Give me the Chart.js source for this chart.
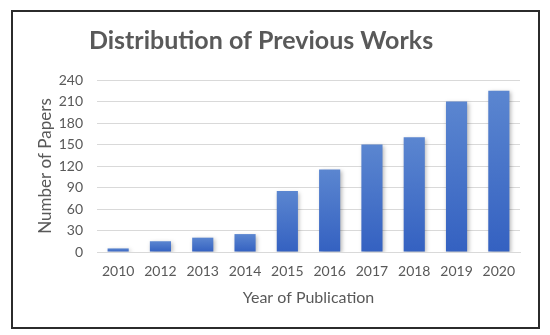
<!DOCTYPE html>
<html>
<head>
<meta charset="utf-8">
<script src="https://cdn.jsdelivr.net/npm/chart.js@4"></script>
<style>
    html, body { margin: 0; padding: 0; background: #fff; }
    #frame {
        position: absolute; left: 11px; top: 10px;
        width: 529px; height: 319px;
        box-sizing: border-box; border: 2px solid #2b2b2b;
    }
    #papersChart { display: block; }
</style>
</head>
<body>
<div id="frame"><canvas id="papersChart" width="525" height="315"></canvas></div>
<script>
let years = ["2010", "2012", "2013", "2014", "2015", "2016", "2017", "2018", "2019", "2020"];
let papers = [5, 15, 20, 25, 85, 115, 150, 160, 210, 225];
let yTicks = [0, 30, 60, 90, 120, 150, 180, 210, 240];

let chartTitle = "Distribution of Previous Works";
let textColor = "#595959";
let fontFamily = "Lato, 'Open Sans', sans-serif";

// per-bar vertical gradient, lighter at the top like the Excel fill
function barFill(context) {
    let chart = context.chart;
    if (!chart.chartArea || context.dataIndex === undefined) return "#4472c4";
    let y = chart.scales.y;
    let top = y.getPixelForValue(papers[context.dataIndex]);
    let bottom = y.getPixelForValue(0);
    let g = chart.ctx.createLinearGradient(0, top, 0, bottom);
    g.addColorStop(0, "#5b86d0");
    g.addColorStop(1, "#3461c1");
    return g;
}

const titlePlugin = {
    id: "sideTitle",
    afterDraw(chart) {
        let ctx = chart.ctx;
        ctx.save();
        ctx.font = "bold 25px " + fontFamily;
        ctx.fillStyle = textColor;
        ctx.textAlign = "center";
        ctx.textBaseline = "alphabetic";
        ctx.fillText(chartTitle, 248, 37);
        ctx.restore();
    }
};

const shadowPlugin = {
    id: "barShadow",
    beforeDatasetsDraw(chart) {
        let ctx = chart.ctx;
        ctx.save();
        ctx.shadowColor = "rgba(0,0,0,0.28)";
        ctx.shadowBlur = 4;
        ctx.shadowOffsetX = 1.5;
        ctx.shadowOffsetY = 1.5;
    },
    afterDatasetsDraw(chart) {
        chart.ctx.restore();
    }
};

let ctx = document.getElementById("papersChart").getContext("2d");

new Chart(ctx, {
    type: 'bar',
    data: {
        labels: years,
        datasets: [{
            label: "Number of Papers",
            data: papers,
            backgroundColor: barFill,
            borderWidth: 0,
            barPercentage: 0.5,
            categoryPercentage: 1.0
        }]
    },
    options: {
        responsive: false,
        animation: false,
        layout: {
            padding: { top: 68, left: 22, right: 18, bottom: 20 }
        },
        plugins: {
            legend: { display: false },
            tooltip: { enabled: false }
        },
        scales: {
            x: {
                grid: { display: false, drawTicks: false },
                border: { display: true, color: "#d9d9d9", width: 1 },
                ticks: {
                    color: textColor,
                    padding: 11,
                    font: { family: fontFamily, size: 14 }
                },
                title: {
                    display: true,
                    text: "Year of Publication",
                    color: textColor,
                    padding: 0,
                    font: { family: fontFamily, size: 16 }
                },
                afterFit(scale) { scale.height = 55; }
            },
            y: {
                min: 0,
                max: 240,
                grid: { color: "#d9d9d9", lineWidth: 1, drawTicks: false },
                border: { display: false },
                afterBuildTicks(scale) {
                    scale.ticks = yTicks.map(v => ({ value: v }));
                },
                ticks: {
                    color: textColor,
                    padding: 14,
                    font: { family: fontFamily, size: 14 }
                },
                title: {
                    display: true,
                    text: "Number of Papers",
                    color: textColor,
                    padding: 0,
                    font: { family: fontFamily, size: 17 }
                },
                afterFit(scale) { scale.width = 62; }
            }
        }
    },
    plugins: [titlePlugin, shadowPlugin]
});
</script>
</body>
</html>
